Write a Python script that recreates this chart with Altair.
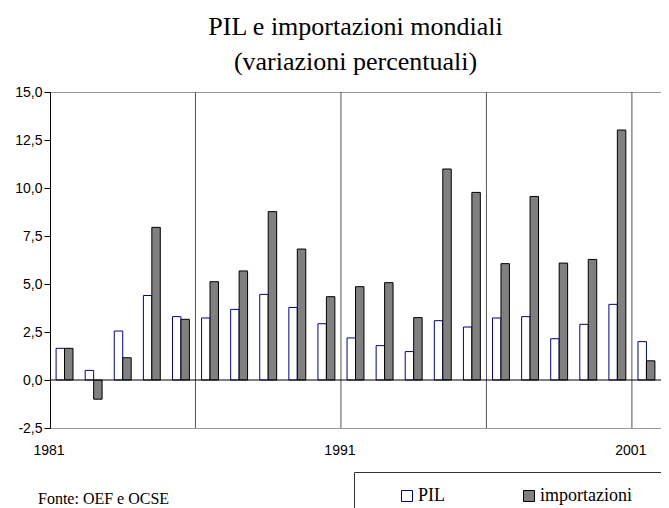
import altair as alt
import pandas as pd

anni = ["1981", "1982", "1983", "1984", "1985", "1986", "1987", "1988", "1989", "1990",
        "1991", "1992", "1993", "1994", "1995", "1996", "1997", "1998", "1999", "2000", "2001"]
pil = [1.65, 0.5, 2.55, 4.4, 3.3, 3.23, 3.68, 4.46, 3.78, 2.93,
       2.19, 1.79, 1.48, 3.09, 2.76, 3.23, 3.3, 2.15, 2.9, 3.94, 2.0]
importazioni = [1.65, -1.0, 1.16, 7.95, 3.16, 5.12, 5.68, 8.77, 6.82, 4.34,
                4.86, 5.07, 3.25, 10.99, 9.77, 6.06, 9.56, 6.09, 6.28, 13.02, 1.0]
serie = ["PIL", "importazioni"]
anni_etichette = ["1981", "1991", "2001"]
anni_griglia = ["1986", "1991", "1996", "2001"]
tick_y = [-2.5, 0, 2.5, 5, 7.5, 10, 12.5, 15]
titolo = ["PIL e importazioni mondiali", "(variazioni percentuali)"]
fonte = "Fonte: OEF e OCSE"

rows = []
for i, a in enumerate(anni):
    rows.append({"anno": a, "serie": "PIL", "valore": pil[i]})
    rows.append({"anno": a, "serie": "importazioni", "valore": importazioni[i]})
df = pd.DataFrame(rows)

legend = alt.Legend(
    orient="none", legendX=304, legendY=380, direction="horizontal",
    title="\u2003", titleOrient="right", titlePadding=20, titleFontSize=18,
    strokeColor="#333333", fillColor="white", padding=15, cornerRadius=0,
    symbolType="square", symbolSize=121, symbolStrokeWidth=1, symbolOffset=29,
    labelFont="Liberation Serif", labelFontSize=18, labelColor="black",
    labelOffset=2, columnPadding=46,
)

bars = alt.Chart(df).mark_bar(strokeWidth=1).encode(
    x=alt.X("anno:O", scale=alt.Scale(paddingInner=0, paddingOuter=0),
            axis=alt.Axis(values=anni_etichette, title=None, ticks=False, domain=False,
                          labelAngle=0, labelFont="Liberation Sans", labelFontSize=14,
                          labelPadding=22, labelColor="black", grid=False)),
    xOffset=alt.XOffset("serie:N", sort=serie,
                        scale=alt.Scale(paddingOuter=0.72, paddingInner=0)),
    y=alt.Y("valore:Q", scale=alt.Scale(domain=[-2.5, 15], nice=False, zero=False),
            axis=alt.Axis(values=tick_y, title=None, grid=False,
                          labelExpr="replace(replace(format(datum.value, '.1f'), '.', ','), '\u2212', '-')",
                          domainColor="black", tickColor="black", tickSize=6,
                          labelFont="Liberation Sans", labelFontSize=14, labelColor="black",
                          labelPadding=2)),
    fill=alt.Fill("serie:N", sort=serie,
                  scale=alt.Scale(domain=serie, range=["white", "#808080"]), legend=legend),
    stroke=alt.Stroke("serie:N", sort=serie,
                      scale=alt.Scale(domain=serie, range=["#000080", "black"]), legend=legend),
)

griglia = alt.Chart(pd.DataFrame({"anno": anni_griglia})).mark_rule(
    color="#555555", strokeWidth=1
).encode(x=alt.X("anno:O", bandPosition=0))

zero = alt.Chart(pd.DataFrame({"v": [0]})).mark_rule(color="black", strokeWidth=1).encode(
    y=alt.Y("v:Q")
)

nota = alt.Chart(pd.DataFrame({"t": [fonte]})).mark_text(
    align="left", baseline="alphabetic", font="Liberation Serif", fontSize=16, color="black"
).encode(text="t:N", x=alt.value(-12), y=alt.value(412))

chart = alt.layer(griglia, bars, zero, nota).properties(
    width=611, height=336,
    padding={"left": 42, "top": 84, "right": 0, "bottom": 90},
    autosize="none",
    title=alt.TitleParams(text=titolo, font="Liberation Serif", fontSize=26,
                          fontWeight="normal", color="black", lineHeight=35,
                          anchor="middle", offset=10),
).configure_view(stroke="#999999", strokeWidth=1)

chart.save("out.html", embed_options={"renderer": "svg", "actions": False})
